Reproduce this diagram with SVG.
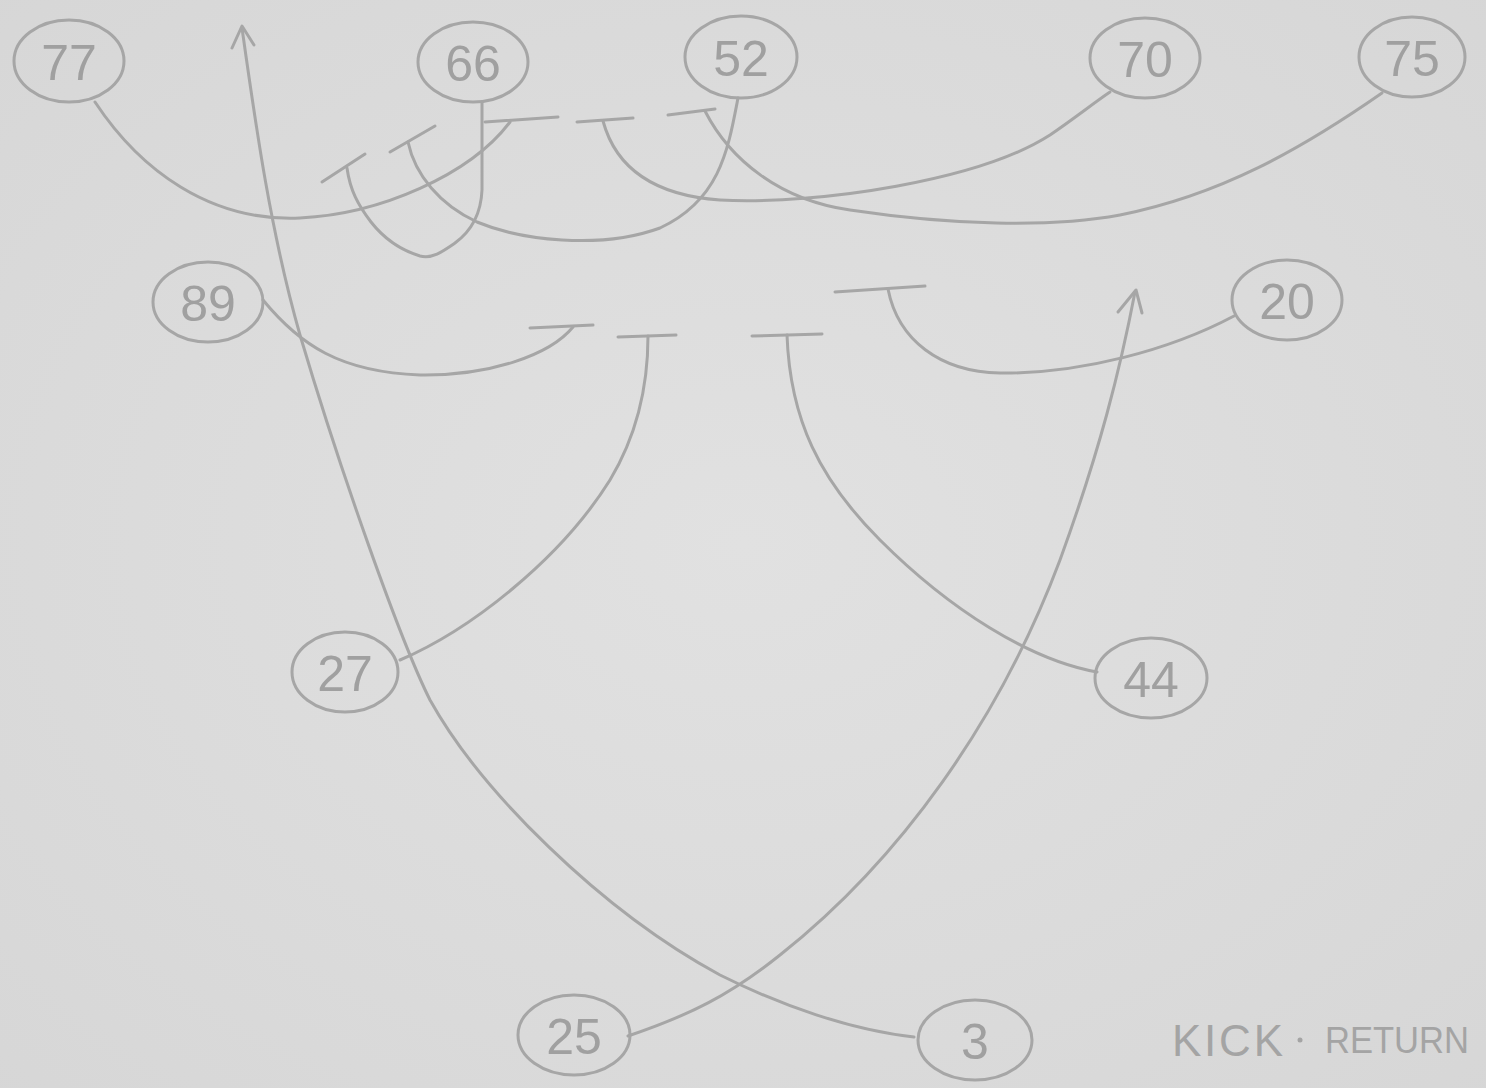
<svg xmlns="http://www.w3.org/2000/svg" width="1486" height="1088" viewBox="0 0 1486 1088">
<defs>
<radialGradient id="paper" cx="0.5" cy="0.5" r="0.75">
<stop offset="0" stop-color="#e1e1e1"/>
<stop offset="1" stop-color="#d6d6d6"/>
</radialGradient>
</defs>
<style>
.ln{fill:none;stroke:#a6a6a6;stroke-width:3;stroke-linecap:round;stroke-linejoin:round}
.nd ellipse{fill:none;stroke:#a6a6a6;stroke-width:3}
.nd text{font-family:"Liberation Sans",Arial,sans-serif;font-size:50px;fill:#a0a0a0;text-anchor:middle;dominant-baseline:central}
.lbl{font-family:"Liberation Sans",Arial,sans-serif;fill:#a4a4a4}
</style>
<rect width="1486" height="1088" fill="url(#paper)"/>
<g id="connectors">
<path class="ln" d="M914,1037 C850,1030 780,1005 720,975 C600,910 480,790 430,700 C400,640 340,470 300,335 C270,230 255,120 242,28"/>
<path class="ln" d="M232,48 L242,26 L254,45"/>
<path class="ln" d="M628,1036 C690,1015 730,995 780,955 C900,860 1000,720 1060,560 C1100,450 1120,370 1135,292"/>
<path class="ln" d="M1118,312 L1136,290 L1142,313"/>
<path class="ln" d="M95,102 C140,170 210,222 300,218 C380,214 470,175 510,122"/>
<path class="ln" d="M485,122 L558,117"/>
<path class="ln" d="M482,102 L482,190 C481,215 470,232 455,243 C442,252 432,259 420,256 C397,249 382,236 371,222 C358,205 350,190 347,168"/>
<path class="ln" d="M322,182 L365,154"/>
<path class="ln" d="M738,98 C728,150 720,200 660,228 C600,250 520,240 477,222 C440,205 415,175 408,142"/>
<path class="ln" d="M390,152 L435,126"/>
<path class="ln" d="M603,121 C615,165 650,195 720,200 C820,205 980,180 1050,135 C1075,118 1095,102 1110,92"/>
<path class="ln" d="M577,122 L633,118"/>
<path class="ln" d="M705,111 C730,160 780,200 850,210 C950,225 1050,228 1120,215 C1220,195 1300,150 1382,93"/>
<path class="ln" d="M668,115 L715,109"/>
<path class="ln" d="M263,300 C300,345 340,372 420,375 C490,376 550,355 573,327"/>
<path class="ln" d="M530,328 L593,325"/>
<path class="ln" d="M400,660 C470,630 560,560 610,480 C640,430 648,380 648,336"/>
<path class="ln" d="M618,337 L676,335"/>
<path class="ln" d="M787,335 C790,420 820,480 880,540 C950,610 1030,660 1097,672"/>
<path class="ln" d="M752,336 L822,334"/>
<path class="ln" d="M888,289 C898,340 940,372 1000,373 C1080,374 1170,350 1234,316"/>
<path class="ln" d="M835,292 L925,286"/>
</g>
<g id="n77" class="nd"><ellipse cx="69" cy="61" rx="55" ry="41"/><text x="69" y="63">77</text></g>
<g id="n66" class="nd"><ellipse cx="473" cy="62" rx="55" ry="40"/><text x="473" y="64">66</text></g>
<g id="n52" class="nd"><ellipse cx="741" cy="57" rx="56" ry="41"/><text x="741" y="59">52</text></g>
<g id="n70" class="nd"><ellipse cx="1145" cy="58" rx="55" ry="40"/><text x="1145" y="60">70</text></g>
<g id="n75" class="nd"><ellipse cx="1412" cy="57" rx="53" ry="40"/><text x="1412" y="59">75</text></g>
<g id="n89" class="nd"><ellipse cx="208" cy="302" rx="55" ry="40"/><text x="208" y="304">89</text></g>
<g id="n20" class="nd"><ellipse cx="1287" cy="300" rx="55" ry="40"/><text x="1287" y="302">20</text></g>
<g id="n27" class="nd"><ellipse cx="345" cy="672" rx="53" ry="40"/><text x="345" y="674">27</text></g>
<g id="n44" class="nd"><ellipse cx="1151" cy="678" rx="56" ry="40"/><text x="1151" y="680">44</text></g>
<g id="n25" class="nd"><ellipse cx="574" cy="1035" rx="56" ry="40"/><text x="574" y="1037">25</text></g>
<g id="n3" class="nd"><ellipse cx="975" cy="1040" rx="57" ry="40"/><text x="975" y="1042">3</text></g>
<text class="lbl" x="1172" y="1056" font-size="44" textLength="111" lengthAdjust="spacing">KICK</text>
<circle cx="1300" cy="1040" r="2.5" fill="#a4a4a4"/>
<text class="lbl" x="1325" y="1053" font-size="36" textLength="144" lengthAdjust="spacingAndGlyphs">RETURN</text>
</svg>
